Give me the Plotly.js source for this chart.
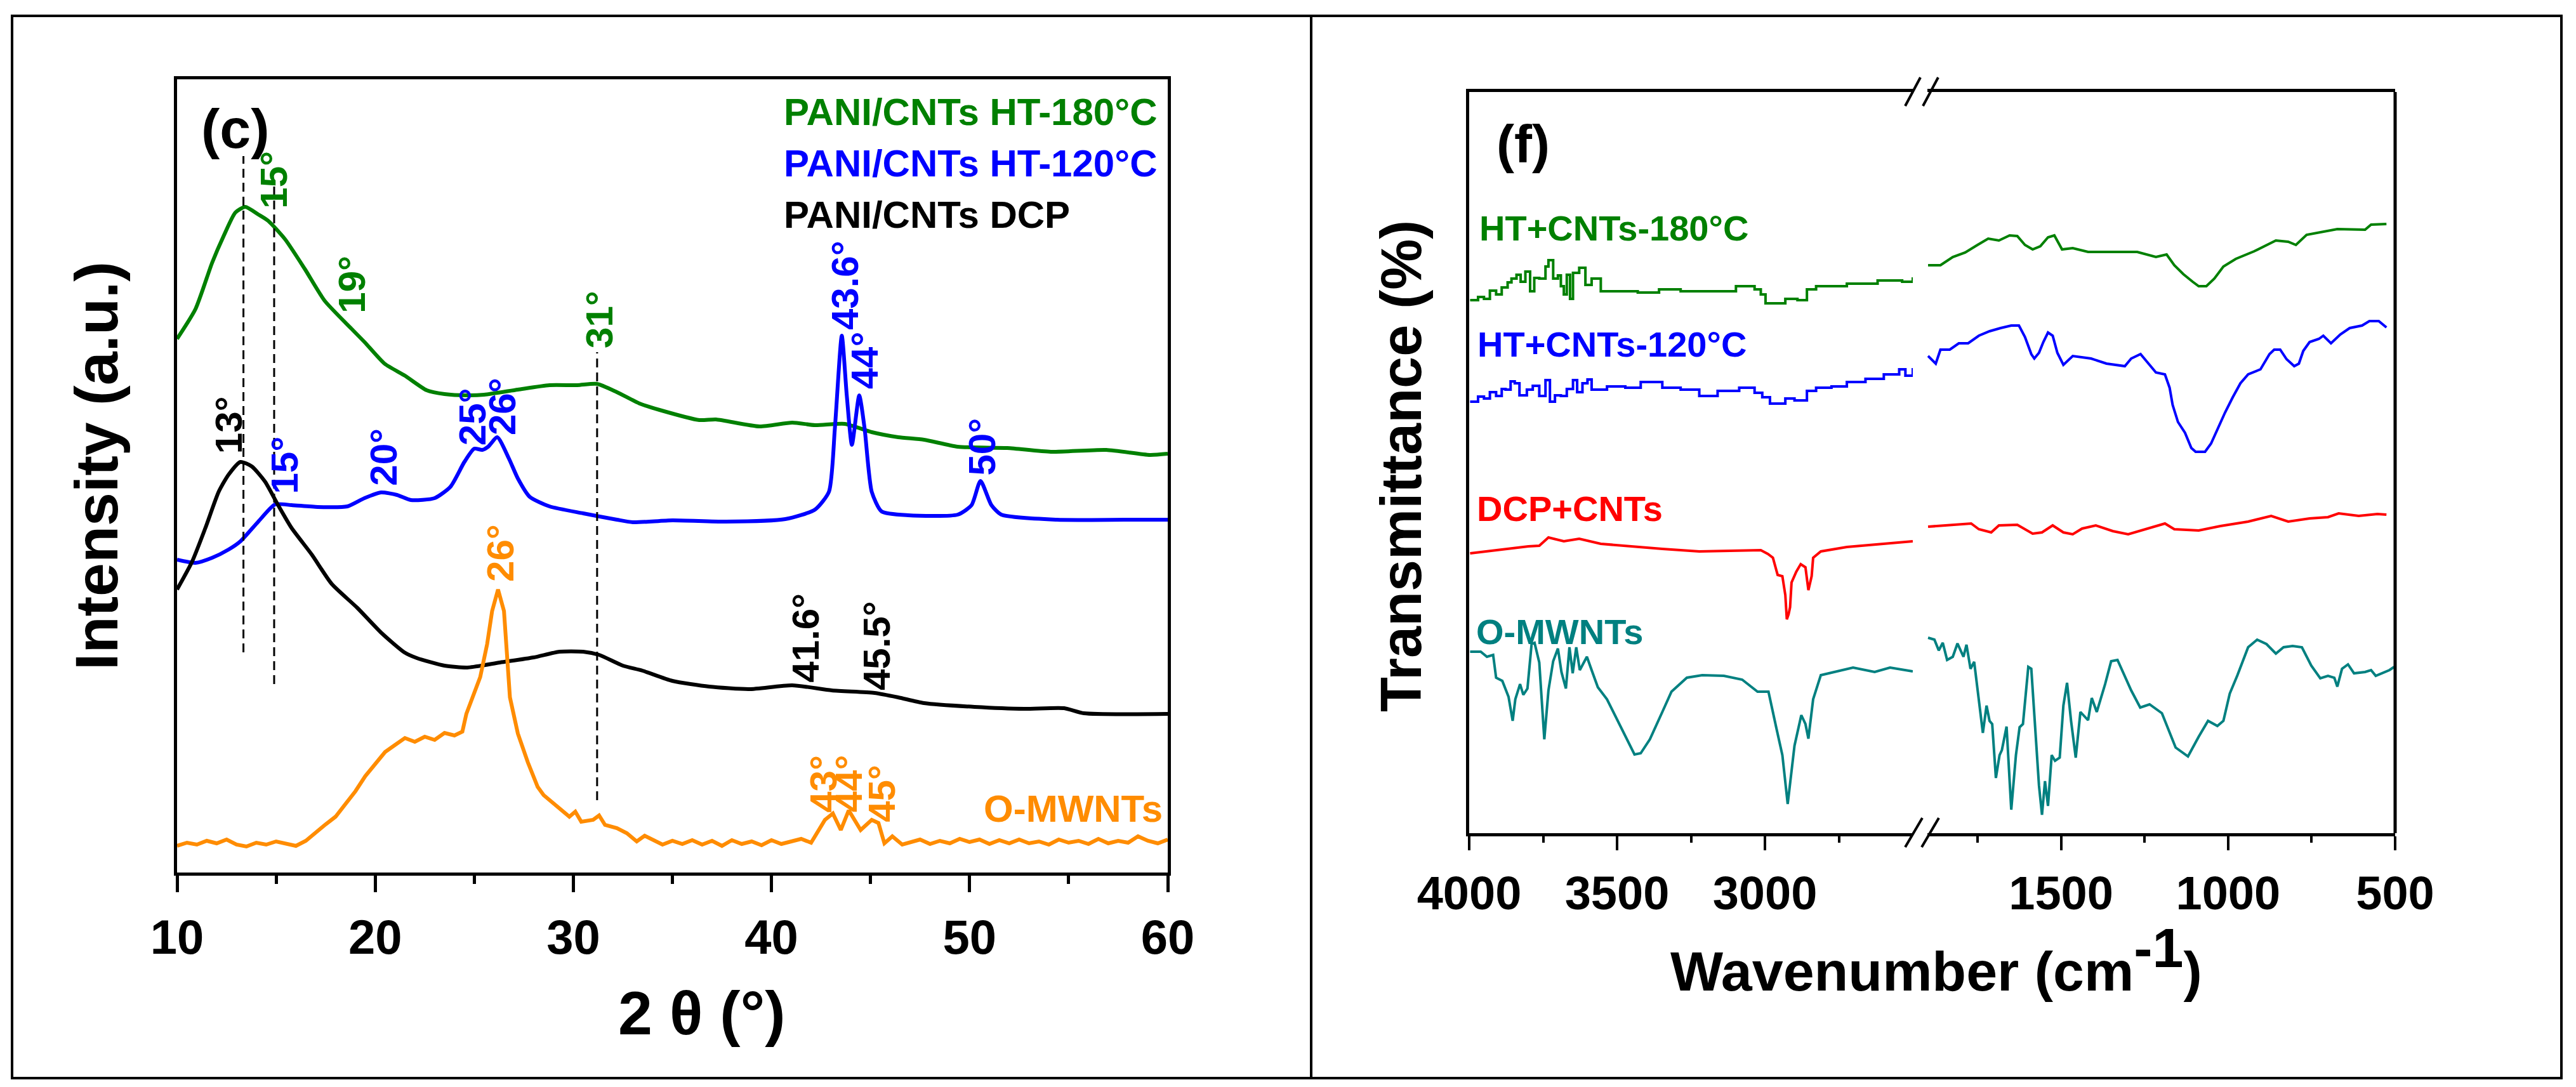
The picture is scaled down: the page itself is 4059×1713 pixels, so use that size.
<!DOCTYPE html>
<html>
<head>
<meta charset="utf-8">
<script src="https://cdn.plot.ly/plotly-3.0.1.min.js"></script>
<style>html,body{margin:0;padding:0;background:#fff;}#chart{width:4059px;height:1713px;}</style>
</head>
<body>
<div id="chart"></div>
<script>
// ---------------- XRD panel (c) ----------------
const xrd180_x = [10,10.93,11.77,12.35,12.94,13.44,14.1,14.6,15.45,16.45,17.45,18.8,19.46,20.47,21.5,22.6,23.5,24.65,25.5,27.2,28.8,30.2,31.2,32.2,33.35,34.35,36.36,37.2,39.4,41.05,42.2,43.7,45.06,46.4,47.7,49.4,51.9,54.1,56.9,59.1,60];
const xrd180_y = [841,888,961,1003,1040,1049,1037,1027,998,951,901,857,836,802,783,760,754,752,753,761,768,768,770,757,739,729,713,714,703,709,705,707,694,686,682,671,669,663,666,658,660];

const xrd120_x = [10,10.93,11.77,12.6,13.2,14.1,14.94,15.78,17.1,18.6,19.46,20.3,21.1,21.8,23,23.8,24.5,25,25.4,25.7,26.16,26.74,27.2,27.8,28.8,30.5,32.2,33,35,37.7,40.7,42.2,42.9,43.2,43.55,43.8,44.06,44.43,44.7,45.06,45.56,46.9,49.4,50.1,50.55,51.1,51.6,54.4,57.8,60];
const xrd120_y = [493,488,496,509,522,553,580,579,576,577,590,599,595,587,590,608,647,668,666,671,686,653,621,592,577,566,556,552,555,553,557,572,600,700,846,752,674,752,700,600,569,563,564,579,617,579,564,556,556,556];

const xrdDCP_x = [10,10.76,11.43,12.1,12.6,13.2,13.77,14.44,15.1,15.78,16.8,17.8,19.1,20.3,21.47,22.1,23.5,24.65,26.3,28,29.3,30.5,31.3,32.5,33.5,35,36.86,38.87,41.04,43.05,45.2,46.4,47.7,50.25,52.76,54.77,55.77,60];
const xrdDCP_y = [446,490,543,600,627,647,640,616,579,543,501,455,417,378,347,338,326,323,331,339,348,348,343,326,318,302,293,289,295,287,283,276,267,261,258,259,251,250];

const xrdOM_x = [10,10.5,11,11.5,12,12.5,13,13.5,14,14.5,15,15.5,16,16.5,17,17.5,18,18.5,19,19.5,20,20.5,21,21.5,22,22.5,23,23.5,24,24.4,24.6,24.9,25.3,25.65,25.9,26.2,26.5,26.8,27.2,27.7,28.2,28.5,28.8,29.3,29.8,30.1,30.4,31,31.3,31.6,32.2,32.7,33.2,33.6,34,34.5,35,35.5,36,36.5,37,37.5,38,38.5,39,39.5,40,40.5,41,41.5,42,42.2,42.7,43.1,43.5,43.9,44.5,45.06,45.4,45.7,46.1,46.6,47,47.5,48,48.5,49,49.5,50,50.5,51,51.5,52,52.5,53,53.5,54,54.5,55,55.5,56,56.5,57,57.5,58,58.5,59,59.5,60];
const xrdOM_y = [42,47,44,50,46,52,44,41,47,44,49,45,42,50,64,76,88,108,128,152,170,190,201,212,206,214,209,220,216,222,250,274,308,360,412,446,412,276,219,174,135,122,114,100,88,96,80,83,90,75,70,62,49,58,52,44,50,45,51,44,50,42,51,45,49,43,51,45,49,53,47,57,83,93,67,98,67,83,78,46,57,44,47,52,45,50,46,53,48,52,45,51,46,52,46,49,44,52,47,50,45,53,46,50,47,57,50,46,52,47,46];

const xrdLabels = ["PANI/CNTs HT-180°C","PANI/CNTs HT-120°C","PANI/CNTs DCP","O-MWNTs"];
const xrdDash_x = [13.35,14.9,31.2];
const xrdDash_top = [1129,1082,820];
const xrdDash_bot = [347,297,114];
const xrdPeak_text = ["15°","19°","31°","13°","15°","20°","25°","26°","43.6°","44°","50°","26°","43°","44°","45°","41.6°","45.5°"];
const xrdPeak_x = [14.86,18.8,31.3,12.6,15.4,20.4,24.9,26.4,43.7,44.7,50.6,26.3,42.6,43.9,45.55,41.7,45.3];
const xrdPeak_y = [1092,927,872,705,642,655,718,734,925,807,671,504,140,140,125,370,357];
const xrdPeak_series = [0,0,0,2,1,1,1,1,1,1,1,3,3,3,3,2,2];

// ---------------- FTIR panel (f) ----------------
const ir180L_x = [3997,3970,3950,3930,3909,3890,3870,3857,3840,3826,3810,3794,3780,3763,3742,3732,3716,3700,3690,3680,3670,3659,3649,3628,3607,3586,3555,3493,3430,3358,3285,3191,3098,3035,3014,2998,2973,2931,2890,2858,2827,2723,2619,2536,2500];
const ir180L_y = [840,845,842,855,849,860,868,874,880,869,885,854,875,874,893,903,874,879,862,849,880,842,883,891,864,874,854,854,852,857,854,854,862,857,849,835,835,842,840,857,862,866,871,869,876];
const ir180R_x = [1898,1861,1824,1787,1750,1718,1686,1654,1631,1608,1585,1562,1539,1520,1497,1465,1419,1345,1272,1216,1184,1161,1134,1106,1088,1065,1041,1014,977,922,885,857,820,797,765,719,673,590,572,526];
const ir180R_y = [895,895,908,915,927,937,934,942,941,927,920,925,939,942,920,922,916,916,916,908,912,895,881,869,862,862,874,893,905,917,927,934,932,927,943,947,952,951,959,960];

const ir120L_x = [3997,3970,3950,3930,3909,3890,3877,3860,3846,3830,3805,3785,3763,3742,3727,3710,3690,3670,3649,3635,3617,3600,3586,3534,3472,3420,3347,3285,3222,3160,3087,3035,3009,2983,2962,2931,2900,2858,2827,2775,2723,2660,2598,2546,2525,2500];
const ir120L_y = [680,688,685,695,689,700,699,712,709,690,699,705,689,714,680,690,689,700,714,695,709,715,699,704,702,711,702,699,689,697,702,694,687,677,677,685,682,697,702,704,711,716,723,731,721,733];
const ir120R_x = [1898,1875,1861,1833,1806,1778,1746,1714,1681,1649,1626,1608,1589,1580,1566,1553,1539,1525,1511,1493,1465,1410,1364,1309,1290,1262,1235,1216,1189,1175,1166,1150,1129,1110,1097,1069,1051,1028,1009,986,963,940,903,876,862,844,825,802,788,775,756,728,715,692,664,636,599,577,549,526];
const ir120R_y = [752,740,762,762,772,772,784,791,796,800,800,782,755,748,757,774,789,784,757,738,752,748,740,736,748,755,738,726,723,702,675,648,631,607,601,601,614,641,663,687,709,723,731,755,762,762,747,736,740,760,774,779,784,772,786,796,800,807,807,797];

const irDCPL_x = [3997,3930,3867,3800,3763,3732,3680,3628,3555,3503,3420,3347,3222,3100,3035,3014,2990,2973,2957,2941,2931,2926,2920,2915,2910,2894,2879,2863,2853,2842,2837,2811,2723,2619,2500];
const irDCPL_y = [441,445,448,452,453,466,460,464,456,454,450,448,444,445,446,446,440,434,407,405,375,337,345,356,395,412,424,419,383,405,434,444,451,455,460];
const irDCPR_x = [1898,1824,1769,1746,1709,1686,1631,1585,1557,1525,1493,1465,1437,1396,1345,1299,1244,1189,1161,1088,1023,940,871,820,756,701,669,609,553,526];
const irDCPR_y = [483,486,488,479,474,485,486,472,474,485,474,471,480,485,476,471,479,488,479,477,484,491,500,491,496,498,504,500,503,502];

const irOML_x = [3997,3961,3940,3919,3909,3888,3867,3853,3844,3828,3817,3803,3789,3779,3763,3746,3732,3716,3700,3688,3673,3661,3650,3638,3626,3602,3586,3565,3534,3493,3462,3441,3420,3389,3347,3316,3264,3212,3139,3077,3025,2988,2962,2941,2923,2900,2877,2863,2853,2837,2811,2744,2702,2629,2577,2500];
const irOML_y = [286,286,278,281,245,240,215,177,211,235,218,228,298,300,269,148,225,271,291,254,228,293,252,293,257,278,257,230,211,172,143,124,126,148,191,223,245,249,248,242,223,223,167,123,46,138,186,172,149,211,249,257,261,254,261,255];
const irOMR_x = [1898,1879,1866,1854,1841,1824,1810,1792,1783,1771,1760,1746,1734,1723,1714,1706,1695,1684,1677,1663,1649,1635,1624,1614,1598,1589,1575,1566,1557,1548,1539,1528,1518,1504,1493,1482,1470,1456,1442,1433,1419,1408,1393,1368,1350,1331,1313,1290,1263,1235,1198,1180,1157,1120,1088,1060,1032,1014,995,972,940,913,885,857,834,807,779,751,724,701,682,673,659,641,623,590,572,558,535,517,503];
const irOMR_y = [308,305,288,300,273,278,299,278,297,259,270,211,158,201,177,172,87,123,131,168,37,123,167,172,262,259,152,75,29,82,43,123,114,119,201,237,177,119,191,186,178,213,191,235,271,273,252,225,198,203,189,165,135,121,152,177,169,177,220,249,293,305,298,283,293,295,293,264,244,248,245,231,259,266,252,254,257,248,253,257,262];

const irLabels = ["HT+CNTs-180°C","HT+CNTs-120°C","DCP+CNTs","O-MWNTs"];
const irMajorL = [4000,3500,3000];
const irMinorL = [3750,3250,2750];
const irMajorR = [1500,1000,500];
const irMinorR = [1750,1250,750];

// ---------------- styling ----------------
const W = 4059, H = 1713;
const FONT = "Liberation Sans, Arial, sans-serif";
const xrdColors = ["#008000","#0000ff","#000000","#ff8c00"];
const irColors = ["#008000","#0000ff","#ff0000","#008080"];
const px = v => v / W;
const py = v => 1 - v / H;

const traces = [];
const xrdX = [xrd180_x, xrd120_x, xrdDCP_x, xrdOM_x];
const xrdY = [xrd180_y, xrd120_y, xrdDCP_y, xrdOM_y];
for (let i = 0; i < 4; i++) {
  traces.push({x: xrdX[i], y: xrdY[i], type: 'scatter', mode: 'lines', xaxis: 'x', yaxis: 'y',
    line: {color: xrdColors[i], width: 6, shape: i === 3 ? 'linear' : 'spline', smoothing: 0.6},
    hoverinfo: 'skip', showlegend: false});
}
const irLX = [ir180L_x, ir120L_x, irDCPL_x, irOML_x];
const irLY = [ir180L_y, ir120L_y, irDCPL_y, irOML_y];
const irRX = [ir180R_x, ir120R_x, irDCPR_x, irOMR_x];
const irRY = [ir180R_y, ir120R_y, irDCPR_y, irOMR_y];
for (let i = 0; i < 4; i++) {
  traces.push({x: irLX[i], y: irLY[i], type: 'scatter', mode: 'lines', xaxis: 'x2', yaxis: 'y2',
    line: {color: irColors[i], width: 4, shape: (i < 2) ? 'hv' : 'linear'}, hoverinfo: 'skip', showlegend: false});
  traces.push({x: irRX[i], y: irRY[i], type: 'scatter', mode: 'lines', xaxis: 'x3', yaxis: 'y2',
    line: {color: irColors[i], width: 4, shape: 'linear'}, hoverinfo: 'skip', showlegend: false});
}

const annotations = [];
function ann(o) { annotations.push(Object.assign({showarrow: false, borderpad: 0}, o)); }

// panel labels
ann({text: '(c)', xref: 'paper', yref: 'paper', x: px(371), y: py(202), xanchor: 'center', yanchor: 'middle',
  font: {family: FONT, size: 88, color: '#000', weight: 'bold'}});
ann({text: '(f)', xref: 'paper', yref: 'paper', x: px(2400), y: py(227), xanchor: 'center', yanchor: 'middle',
  font: {family: FONT, size: 84, color: '#000', weight: 'bold'}});

// XRD legend texts
const xrdLegY = [176, 257, 338];
for (let i = 0; i < 3; i++) {
  ann({text: xrdLabels[i], xref: 'paper', yref: 'paper', x: px(1234), y: py(xrdLegY[i]), xanchor: 'left', yanchor: 'middle',
    font: {family: FONT, size: 60, color: xrdColors[i], weight: 'bold'}});
}
ann({text: xrdLabels[3], xref: 'paper', yref: 'paper', x: px(1549), y: py(1274), xanchor: 'left', yanchor: 'middle',
  font: {family: FONT, size: 60, color: xrdColors[3], weight: 'bold'}});

// XRD peak labels (rotated)
for (let i = 0; i < xrdPeak_text.length; i++) {
  ann({text: xrdPeak_text[i], xref: 'x', yref: 'y', x: xrdPeak_x[i], y: xrdPeak_y[i], textangle: -90,
    xanchor: 'center', yanchor: 'middle',
    font: {family: FONT, size: 60, color: xrdColors[xrdPeak_series[i]], weight: 'bold'}});
}

// FTIR labels
const irLabX = [2330, 2327, 2326, 2325];
const irLabY = [359, 542, 801, 995];
for (let i = 0; i < 4; i++) {
  ann({text: irLabels[i], xref: 'paper', yref: 'paper', x: px(irLabX[i]), y: py(irLabY[i]), xanchor: 'left', yanchor: 'middle',
    font: {family: FONT, size: 56, color: irColors[i], weight: 'bold'}});
}

// axis titles
ann({text: 'Intensity (a.u.)', xref: 'paper', yref: 'paper', x: px(152), y: py(734), textangle: -90, xanchor: 'center', yanchor: 'middle',
  font: {family: FONT, size: 95, color: '#000', weight: 'bold'}});
ann({text: 'Transmittance (%)', xref: 'paper', yref: 'paper', x: px(2208), y: py(735), textangle: -90, xanchor: 'center', yanchor: 'middle',
  font: {family: FONT, size: 90, color: '#000', weight: 'bold'}});
ann({text: '2 θ (°)', xref: 'paper', yref: 'paper', x: px(1106), y: py(1596), xanchor: 'center', yanchor: 'middle',
  font: {family: FONT, size: 97, color: '#000', weight: 'bold'}});
ann({text: 'Wavenumber (cm<sup><span style="font-size:88px">-1</span></sup>)', xref: 'paper', yref: 'paper', x: px(3051), y: py(1512), xanchor: 'center', yanchor: 'middle',
  font: {family: FONT, size: 88, color: '#000', weight: 'bold'}});

// shapes
const shapes = [];
function pline(x0, y0, x1, y1, w, dash) {
  shapes.push({type: 'line', xref: 'paper', yref: 'paper', x0: px(x0), y0: py(y0), x1: px(x1), y1: py(y1),
    line: {color: '#000', width: w, dash: dash || 'solid'}});
}
// outer frame and divider
shapes.push({type: 'rect', xref: 'paper', yref: 'paper', x0: px(19), y0: py(1699), x1: px(4036), y1: py(25),
  line: {color: '#000', width: 4}, fillcolor: 'rgba(0,0,0,0)'});
pline(2066, 25, 2066, 1699, 4);
// right border of FTIR plot
pline(3774, 145, 3774, 1313, 5);
// axis break marks
pline(3002, 167, 3026, 122, 4); pline(3030, 167, 3054, 122, 4);
pline(3002, 1335, 3029, 1289, 4); pline(3028, 1335, 3055, 1289, 4);
// XRD dashed guide lines
for (let i = 0; i < xrdDash_x.length; i++) {
  shapes.push({type: 'line', xref: 'x', yref: 'y', x0: xrdDash_x[i], x1: xrdDash_x[i], y0: xrdDash_bot[i], y1: xrdDash_top[i],
    line: {color: '#000', width: 3, dash: '14px,8px'}});
}

const tickFontL = {family: FONT, size: 76, color: '#000', weight: 'bold'};
const tickFontR = {family: FONT, size: 74, color: '#000', weight: 'bold'};
const axBase = {showline: true, linecolor: '#000', showgrid: false, zeroline: false, fixedrange: true};

const layout = {
  width: W, height: H, margin: {l: 0, r: 0, t: 0, b: 0, pad: 0},
  paper_bgcolor: '#fff', plot_bgcolor: 'rgba(0,0,0,0)', showlegend: false,
  xaxis: Object.assign({}, axBase, {domain: [px(279), px(1840)], range: [10, 60], anchor: 'y', linewidth: 5, mirror: true,
    ticks: 'outside', ticklen: 26, tickwidth: 5, tickcolor: '#000', tickmode: 'linear', tick0: 10, dtick: 10,
    tickfont: tickFontL, ticklabelstandoff: 6,
    minor: {ticks: 'outside', dtick: 5, tick0: 10, ticklen: 13, tickwidth: 5, tickcolor: '#000', showgrid: false}}),
  yaxis: Object.assign({}, axBase, {domain: [py(1375), py(125)], range: [0, 1250], anchor: 'x', linewidth: 5, mirror: true,
    ticks: '', showticklabels: false}),
  xaxis2: Object.assign({}, axBase, {domain: [px(2315), px(3014)], range: [4000, 2500], anchor: 'y2', linewidth: 5, mirror: true,
    ticks: 'outside', ticklen: 22, tickwidth: 4, tickcolor: '#000', tickmode: 'array', tickvals: irMajorL, ticktext: irMajorL.map(String),
    tickfont: tickFontR, ticklabelstandoff: 4,
    minor: {ticks: 'outside', tickmode: 'array', tickvals: irMinorL, ticklen: 10, tickwidth: 4, tickcolor: '#000', showgrid: false}}),
  xaxis3: Object.assign({}, axBase, {domain: [px(3037), px(3774)], range: [1900, 500], anchor: 'y2', linewidth: 5, mirror: true,
    ticks: 'outside', ticklen: 22, tickwidth: 4, tickcolor: '#000', tickmode: 'array', tickvals: irMajorR, ticktext: irMajorR.map(String),
    tickfont: tickFontR, ticklabelstandoff: 4,
    minor: {ticks: 'outside', tickmode: 'array', tickvals: irMinorR, ticklen: 10, tickwidth: 4, tickcolor: '#000', showgrid: false}}),
  yaxis2: Object.assign({}, axBase, {domain: [py(1313), py(145)], range: [0, 1168], anchor: 'x2', linewidth: 5, mirror: false,
    ticks: '', showticklabels: false}),
  annotations: annotations,
  shapes: shapes
};

Plotly.newPlot('chart', traces, layout, {staticPlot: true, displayModeBar: false});
</script>
</body>
</html>
